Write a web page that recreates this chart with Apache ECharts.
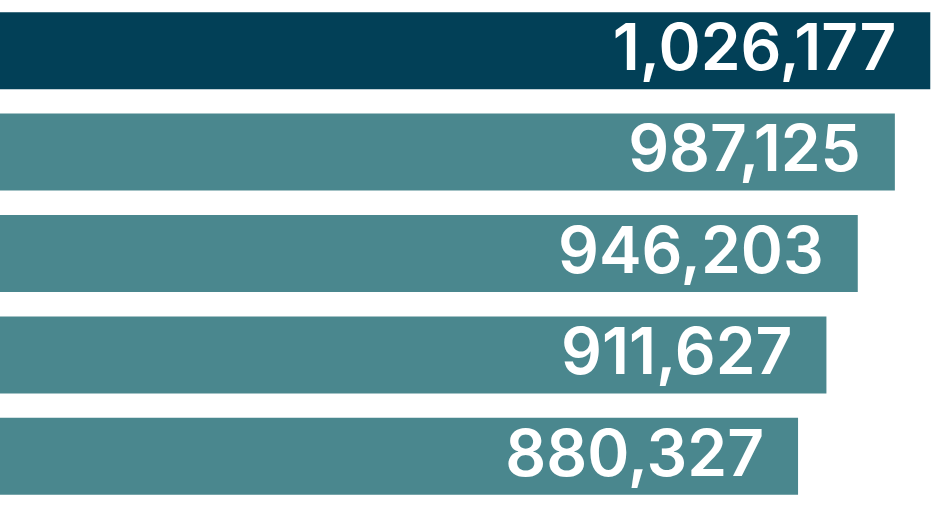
<!DOCTYPE html>
<html>
<head>
<meta charset="utf-8">
<script src="https://cdn.jsdelivr.net/npm/echarts@6/dist/echarts.min.js"></script>
<style>
  html, body { margin: 0; padding: 0; background: #fff; }
  #bar { width: 936px; height: 510px; }
</style>
</head>
<body>
<div id="bar"></div>
<script>
var categories = ['A', 'B', 'C', 'D', 'E'];
var values = [1026177, 987125, 946203, 911627, 880327];
var barColors = ['#024057', '#4a878e', '#4a878e', '#4a878e', '#4a878e'];

var myChart = echarts.init(document.getElementById('bar'));
var option = {
  animation: false,
  grid: {
    top: -3,
    height: 510,
    left: 0,
    right: 0
  },
  xAxis: {
    type: 'value',
    min: 0,
    max: 1032500,
    show: false
  },
  yAxis: {
    type: 'category',
    inverse: true,
    data: categories,
    show: false
  },
  series: [{
    type: 'bar',
    barWidth: 77,
    data: values.map(function (v, i) {
      return { value: v, itemStyle: { color: barColors[i] } };
    }),
    label: {
      show: true,
      position: 'insideRight',
      distance: 34,
      color: '#fff',
      fontFamily: 'Inter',
      fontSize: 64,
      fontWeight: 600,
      formatter: function (p) {
        return p.value.toLocaleString('en-US');
      }
    }
  }]
};
myChart.setOption(option);

window.addEventListener('resize', function () {
  myChart.resize();
});
</script>
</body>
</html>
